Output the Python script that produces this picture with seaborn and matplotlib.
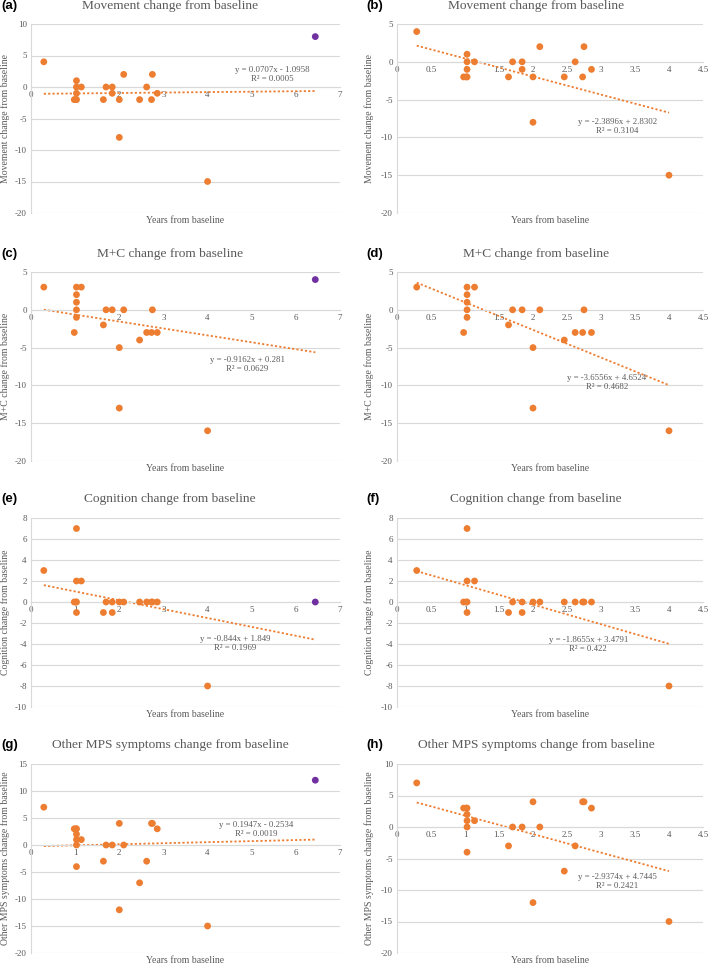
import numpy as np
import matplotlib
matplotlib.use('Agg')
import matplotlib.pyplot as plt
import seaborn as sns

# data (years from baseline, change scores)
x_mov = [0.29, 0.98, 1.02, 1.03, 1.03, 1.03, 1.03, 1.14, 1.64, 1.70, 1.84, 1.84,
         2.00, 2.00, 2.10, 2.46, 2.62, 2.73, 2.75, 2.86, 4.00]
y_mov = [4, -2, -2, 1, 0, -1, -2, 0, -2, 0, 0, -1, -2, -8, 2, -2, 0, -2, 2, -1, -15]

x_mc = [0.29, 0.98, 1.03, 1.03, 1.03, 1.03, 1.03, 1.14, 1.64, 1.70, 1.84,
        2.00, 2.00, 2.10, 2.46, 2.62, 2.73, 2.75, 2.86, 4.00]
y_mc = [3, -3, 3, 2, 1, 0, -1, 3, -2, 0, 0, -5, -13, 0, -4, -3, -3, 0, -3, -16]

x_cog = [0.29, 0.98, 1.02, 1.03, 1.03, 1.03, 1.03, 1.14, 1.64, 1.70, 1.84, 1.84,
         2.00, 2.10, 2.46, 2.62, 2.73, 2.75, 2.86, 4.00]
y_cog = [3, 0, 0, 0, 7, 2, -1, 2, -1, 0, 0, -1, 0, 0, 0, 0, 0, 0, 0, -8]

x_mps = [0.29, 0.98, 1.02, 1.03, 1.03, 1.03, 1.03, 1.03, 1.14, 1.64, 1.70, 1.84,
         2.00, 2.00, 2.10, 2.46, 2.62, 2.73, 2.75, 2.86, 4.00]
y_mps = [7, 3, 3, 3, 2, 1, 0, -4, 1, -3, 0, 0, 4, -12, 0, -7, -3, 4, 4, 3, -15]

# the extra (purple) subject shown only in the left column
x_out = 6.44
y_out = {'mov': 8, 'mc': 4, 'cog': 0, 'mps': 12}

# printed trendline coefficients (slope, intercept, R2)
fits_left = {'mov': (0.0707, -1.0958, '0.0005'), 'mc': (-0.9162, 0.281, '0.0629'),
             'cog': (-0.844, 1.849, '0.1969'), 'mps': (0.1947, -0.2534, '0.0019')}
fits_right = {'mov': (-2.3896, 2.8302, '0.3104'), 'mc': (-3.6556, 4.6524, '0.4682'),
              'cog': (-1.8655, 3.4791, '0.422'), 'mps': (-2.9374, 4.7445, '0.2421')}

titles = {'mov': 'Movement change from baseline', 'mc': 'M+C change from baseline',
          'cog': 'Cognition change from baseline',
          'mps': 'Other MPS symptoms change from baseline'}
ylabels = {'mov': 'Movement change from baseline', 'mc': 'M+C change from baseline',
           'cog': 'Cognition change from baseline',
           'mps': 'Other MPS symptoms change from baseline'}
data = {'mov': (x_mov, y_mov), 'mc': (x_mc, y_mc), 'cog': (x_cog, y_cog), 'mps': (x_mps, y_mps)}

ylims_left = {'mov': (-20, 10, 5), 'mc': (-20, 5, 5), 'cog': (-10, 8, 2), 'mps': (-20, 15, 5)}
ylims_right = {'mov': (-20, 5, 5), 'mc': (-20, 5, 5), 'cog': (-10, 8, 2), 'mps': (-20, 10, 5)}

# equation label positions (axes fraction)
eq_left = {'mov': (0.78, 0.733), 'mc': (0.70, 0.51), 'cog': (0.66, 0.335), 'mps': (0.73, 0.655)}
eq_right = {'mov': (0.72, 0.46), 'mc': (0.686, 0.415), 'cog': (0.625, 0.33), 'mps': (0.72, 0.38)}

ORANGE = '#ED7D31'
PURPLE = '#7030A0'
GREY = '#595959'
GRID = '#D9D9D9'

sns.set_style('white')
plt.rcParams['font.family'] = ['Liberation Serif', 'DejaVu Serif']
plt.rcParams['axes.unicode_minus'] = False

W, H = 709, 964
fig = plt.figure(figsize=(W / 100, H / 100), dpi=100)

rows = ['mov', 'mc', 'cog', 'mps']
row_top = [24, 272, 518, 764]
row_title_y = [6, 254, 499, 745]
labels = ['(a)', '(b)', '(c)', '(d)', '(e)', '(f)', '(g)', '(h)']


def draw(ax, key, xs, ys, fit, ylim, xmax, xstep, eqpos, ylab_x, extra=None):
    lo, hi, step = ylim
    sns.scatterplot(x=xs, y=ys, ax=ax, color=ORANGE, s=24, edgecolor='none', zorder=3)
    xall = list(xs)
    if extra is not None:
        sns.scatterplot(x=[extra[0]], y=[extra[1]], ax=ax, color=PURPLE, s=24,
                        edgecolor='none', zorder=3)
        xall.append(extra[0])
    m, b, r2 = fit
    xl = np.array([min(xall), max(xall)])
    ax.plot(xl, m * xl + b, color=ORANGE, lw=1.3, ls=(0, (1.2, 1.2)), zorder=2)
    sign = '-' if b < 0 else '+'
    ax.text(eqpos[0], eqpos[1], f'y = {m:g}x {sign} {abs(b):g}\nR² = {r2}',
            transform=ax.transAxes, ha='center', va='center', fontsize=6.3,
            color=GREY, linespacing=1.15)
    ax.set_xlim(0, xmax)
    ax.set_ylim(lo, hi)
    ticks = np.arange(0, xmax + 0.01, xstep)
    ax.set_xticks(ticks)
    ax.set_xticklabels([f'{v:g}' for v in ticks])
    ax.set_yticks(np.arange(lo, hi + 0.01, step))
    ax.grid(axis='y', color=GRID, lw=0.8)
    ax.grid(axis='x', visible=False)
    for s in ['top', 'right']:
        ax.spines[s].set_visible(False)
    ax.spines['left'].set_color(GRID)
    ax.spines['bottom'].set_color(GRID)
    ax.spines['bottom'].set_position(('data', 0))
    ax.tick_params(length=0, labelsize=6.5, colors=GREY, pad=3)
    ax.set_xlabel('Years from baseline', fontsize=7, color=GREY)
    ax.xaxis.set_label_coords(0.5, -0.016)
    ax.set_ylabel(ylabels[key], fontsize=7, color=GREY)
    ax.yaxis.set_label_coords(ylab_x, 0.5)


for i, key in enumerate(rows):
    top = row_top[i]
    bot = 1 - (top + 189) / H
    hgt = 189 / H
    axl = fig.add_axes([31 / W, bot, 309 / W, hgt])
    axr = fig.add_axes([397 / W, bot, 306 / W, hgt])
    xs, ys = data[key]
    draw(axl, key, xs, ys, fits_left[key], ylims_left[key], 7, 1, eq_left[key], -0.068,
         extra=(x_out, y_out[key]))
    draw(axr, key, xs, ys, fits_right[key], ylims_right[key], 4.5, 0.5, eq_right[key], -0.075)

    ty = 1 - row_title_y[i] / H
    fig.text(170 / W, ty, titles[key], ha='center', va='center', fontsize=9.6, color=GREY)
    fig.text(536 / W, ty, titles[key], ha='center', va='center', fontsize=9.6, color=GREY)
    fig.text(1 / W, ty, labels[2 * i], ha='left', va='center', fontsize=9.5,
             fontweight='bold', family=['Liberation Sans', 'DejaVu Sans'], color='black')
    fig.text(366 / W, ty, labels[2 * i + 1], ha='left', va='center', fontsize=9.5,
             fontweight='bold', family=['Liberation Sans', 'DejaVu Sans'], color='black')

fig.savefig('out.png', dpi=100)
plt.close(fig)
